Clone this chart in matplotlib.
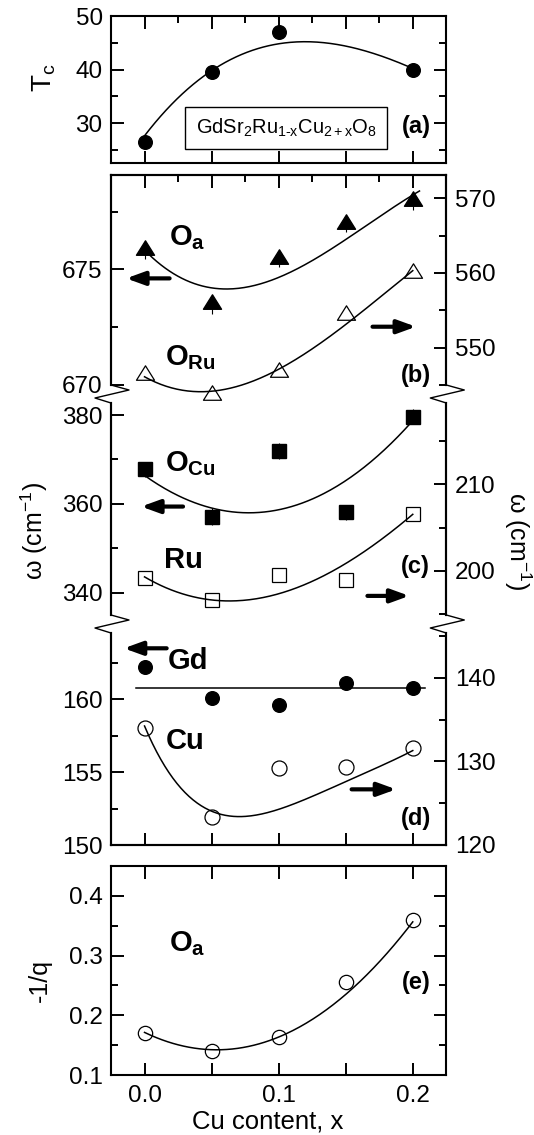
import numpy as np
import matplotlib
matplotlib.use('Agg')
import matplotlib.pyplot as plt
from matplotlib.lines import Line2D
from matplotlib.path import Path
from matplotlib.ticker import MultipleLocator, FuncFormatter

plt.rcParams['font.family'] = ['Liberation Sans', 'DejaVu Sans']
plt.rcParams['mathtext.fontset'] = 'custom'
plt.rcParams['mathtext.rm'] = 'Liberation Sans'
plt.rcParams['mathtext.bf'] = 'Liberation Sans:bold'
plt.rcParams['mathtext.it'] = 'Liberation Sans:italic'
plt.rcParams['mathtext.sf'] = 'Liberation Sans'

# Cu content
x = [0.0, 0.05, 0.1, 0.15, 0.2]

# (a) Tc
tc_x = [0.0, 0.05, 0.1, 0.2]
tc = [26.5, 39.5, 47.1, 40.0]
tc_guide = [27.8, 39.2, 45.8, 43.8, 40.4]

# (b) O_a (left axis) and O_Ru (right axis)
oa = [675.93, 673.58, 675.55, 677.06, 678.05]
oa_err = [0.5, 0.5, 0.45, 0.45, 0.5]
oa_guide = [675.84, 674.18, 674.68, 676.27, 678.22]
oru = [546.57, 543.9, 547.06, 554.7, 560.2]
oru_guide = [546.0, 544.57, 546.5, 553.5, 560.2]

# (c) O_Cu (left axis) and Ru (right axis)
ocu = [367.8, 357.1, 371.9, 358.1, 379.6]
ocu_err = [1.7, 1.9, 1.9, 1.7, 1.7]
ocu_guide = [366.3, 359.4, 358.3, 365.4, 378.7]
ru = [199.16, 196.54, 199.54, 198.93, 206.6]
ru_guide = [199.24, 196.74, 197.1, 200.97, 206.5]

# (d) Gd (left axis) and Cu (right axis)
gd = [162.2, 160.1, 159.6, 161.1, 160.75]
cu = [134.0, 123.4, 129.2, 129.3, 131.6]
cu_guide_x = [0.0, 0.0125, 0.025, 0.0375, 0.05, 0.075, 0.1, 0.15, 0.2]
cu_guide = [134.0, 130.5, 127.3, 125.1, 123.75, 123.5, 124.4, 127.5, 131.3]

# (e) -1/q of O_a
q_inv = [0.171, 0.140, 0.164, 0.256, 0.360]
q_guide = [0.1716, 0.142, 0.163, 0.236, 0.356]

W, H = 534, 1135
L, R = 111, 446.3
TICK_FS = 17.5
fig = plt.figure(figsize=(W / 100, H / 100), dpi=100)


def add_ax(top, bot):
    return fig.add_axes([L / W, 1 - bot / H, (R - L) / W, (bot - top) / H])


def guide(ax, xs, ys, deg, x0=0.0, x1=0.2):
    c = np.polyfit(xs, ys, deg)
    xx = np.linspace(x0, x1, 200)
    ax.plot(xx, np.polyval(c, xx), color='k', lw=1.1, clip_on=False, zorder=2)


def yticks(ax):
    ax.tick_params(which='both', direction='in', width=1.4, labelsize=TICK_FS, pad=6)
    ax.tick_params(which='major', length=9)
    ax.tick_params(which='minor', length=5)
    for s in ax.spines.values():
        s.set_linewidth(1.5)


def style(ax, top=True, bottom=True, minor_top=False):
    ax.set_xlim(-0.025, 0.225)
    ax.xaxis.set_major_locator(MultipleLocator(0.05))
    ax.xaxis.set_minor_locator(MultipleLocator(0.025))
    yticks(ax)
    ax.tick_params(axis='x', which='major', top=top, bottom=bottom, labelbottom=False)
    ax.tick_params(axis='x', which='minor', top=top and minor_top, bottom=False)


def arrow(ax, x0, x1, y):
    ax.annotate('', xy=(x1, y), xytext=(x0, y),
                arrowprops=dict(arrowstyle='-|>,head_length=0.55,head_width=0.2',
                                color='k', lw=3, shrinkA=0, shrinkB=0,
                                mutation_scale=20))


def zigzag(xp, yp):
    pts = [(0, 0), (18, 5), (-16, 13), (0, 18)]
    xs = [(xp + dx) / W for dx, dy in pts]
    ys = [1 - (yp + dy) / H for dx, dy in pts]
    fig.add_artist(Line2D(xs, ys, transform=fig.transFigure, color='k', lw=1.0))


tri = Path([(-1, -0.75), (1, -0.75), (0, 0.85), (-1, -0.75)],
           [Path.MOVETO, Path.LINETO, Path.LINETO, Path.CLOSEPOLY])
bold = dict(fontsize=21, ha='left', va='baseline')
lab = dict(fontsize=17, fontweight='bold', ha='right', va='center')

# ---- (a)
ax_a = add_ax(16.3, 163.3)
style(ax_a, minor_top=True)
ax_a.set_ylim(22.5, 50)
ax_a.yaxis.set_major_locator(MultipleLocator(10))
ax_a.yaxis.set_minor_locator(MultipleLocator(5))
ax_a.tick_params(axis='y', which='both', right=True)
guide(ax_a, x, tc_guide, 3)
ax_a.plot(tc_x, tc, 'o', color='k', ms=9.8, clip_on=False, zorder=3)
ax_a.text(0.1055, 29.08,
          r'GdSr$_\mathregular{2}$Ru$_\mathregular{1\text{-}x}$Cu$_\mathregular{2+x}$O$_\mathregular{8}$',
          fontsize=14.5, ha='center', va='center',
          bbox=dict(boxstyle='square,pad=0.5', fc='white', ec='k', lw=1.0))
ax_a.text(0.2136, 29.4, '(a)', **lab)

# ---- (b)
ax_b = add_ax(175.0, 385.0)
style(ax_b, bottom=False, minor_top=True)
ax_b.set_ylim(670, 679.08)
ax_b.yaxis.set_major_locator(MultipleLocator(5))
ax_b.yaxis.set_minor_locator(MultipleLocator(2.5))
ax_b.spines['bottom'].set_visible(False)
bt = ax_b.twinx()
bt.set_ylim(545, 573.1)
bt.yaxis.set_major_locator(MultipleLocator(10))
bt.yaxis.set_minor_locator(MultipleLocator(5))
yticks(bt)
bt.spines['bottom'].set_visible(False)
guide(ax_b, x, oa_guide, 3, 0.0, 0.205)
ax_b.errorbar(x, oa, yerr=[oa_err, [0] * 5], fmt='none', ecolor='k', elinewidth=0.8, clip_on=False)
ax_b.plot(x, oa, ls='none', marker=tri, color='k', ms=13, clip_on=False, zorder=3)
guide(bt, x, oru_guide, 3)
bt.plot(x, oru, ls='none', marker=tri, mfc='none', mec='k', mew=0.9, ms=13, clip_on=False, zorder=3)
ax_b.text(0.0182, 676.05, r'$\mathbf{O}_\mathbf{a}$', **bold)
ax_b.text(0.015, 670.87, r'$\mathbf{O}_\mathbf{Ru}$', **bold)
arrow(ax_b, 0.0187, -0.0137, 674.61)
arrow(ax_b, 0.170, 0.2024, 672.52)
ax_b.text(0.2136, 670.43, '(b)', **lab)

# ---- (c)
ax_c = add_ax(403.0, 615.0)
style(ax_c, top=False, bottom=False)
ax_c.set_ylim(335, 382.7)
ax_c.yaxis.set_major_locator(MultipleLocator(20))
ax_c.yaxis.set_minor_locator(MultipleLocator(10))
ax_c.spines['top'].set_visible(False)
ax_c.spines['bottom'].set_visible(False)
ct = ax_c.twinx()
ct.set_ylim(194.85, 219.46)
ct.yaxis.set_major_locator(MultipleLocator(10))
ct.yaxis.set_minor_locator(MultipleLocator(5))
yticks(ct)
ct.spines['top'].set_visible(False)
ct.spines['bottom'].set_visible(False)
guide(ax_c, x, ocu_guide, 2)
ax_c.errorbar(x, ocu, yerr=ocu_err, fmt='none', ecolor='k', elinewidth=0.8, clip_on=False)
ax_c.plot(x, ocu, 's', color='k', ms=9.6, clip_on=False, zorder=3)
guide(ct, x, ru_guide, 3)
ct.plot(x, ru, 's', mfc='none', mec='k', mew=0.9, ms=9.6, clip_on=False, zorder=3)
ax_c.text(0.015, 367.3, r'$\mathbf{O}_\mathbf{Cu}$', **bold)
ax_c.text(0.0142, 345.5, 'Ru', fontweight='bold', **bold)
arrow(ax_c, 0.0287, -0.0025, 359.4)
arrow(ax_c, 0.1662, 0.1974, 339.3)
ax_c.text(0.2125, 345.9, '(c)', **lab)

# ---- (d)
ax_d = add_ax(633.0, 845.0)
style(ax_d, top=False)
ax_d.set_ylim(150, 164.55)
ax_d.yaxis.set_major_locator(MultipleLocator(5))
ax_d.yaxis.set_minor_locator(MultipleLocator(2.5))
ax_d.spines['top'].set_visible(False)
dt = ax_d.twinx()
dt.set_ylim(120, 145.34)
dt.yaxis.set_major_locator(MultipleLocator(10))
dt.yaxis.set_minor_locator(MultipleLocator(5))
yticks(dt)
dt.spines['top'].set_visible(False)
gd_mean = np.mean(gd)
ax_d.plot([-0.006, 0.209], [gd_mean, gd_mean], color='k', lw=1.1)
ax_d.plot(x, gd, 'o', color='k', ms=9.8, clip_on=False, zorder=3)
guide(dt, cu_guide_x, cu_guide, 4)
dt.plot(x, cu, 'o', mfc='none', mec='k', mew=0.9, ms=10.8, clip_on=False, zorder=3)
ax_d.text(0.0172, 162.06, 'Gd', fontweight='bold', **bold)
ax_d.text(0.016, 156.57, 'Cu', fontweight='bold', **bold)
arrow(ax_d, 0.0165, -0.0154, 163.5)
arrow(ax_d, 0.1544, 0.1876, 153.82)
ax_d.text(0.2136, 151.83, '(d)', **lab)

# ---- (e)
ax_e = add_ax(866.0, 1075.0)
style(ax_e)
ax_e.set_ylim(0.1, 0.45)
ax_e.yaxis.set_major_locator(MultipleLocator(0.1))
ax_e.yaxis.set_minor_locator(MultipleLocator(0.05))
ax_e.tick_params(axis='y', which='both', right=True)
ax_e.tick_params(axis='x', which='major', labelbottom=True, pad=7)


def xfmt(v, pos):
    if abs(v) < 1e-9:
        v = 0.0
    return f'{v:.1f}' if abs(round(v / 0.1) * 0.1 - v) < 1e-6 else ''


ax_e.xaxis.set_major_formatter(FuncFormatter(xfmt))
guide(ax_e, x, q_guide, 2)
ax_e.plot(x, q_inv, 'o', mfc='none', mec='k', mew=0.9, ms=10.3, clip_on=False, zorder=3)
ax_e.text(0.0182, 0.3076, r'$\mathbf{O}_\mathbf{a}$', **bold)
ax_e.text(0.2136, 0.2547, '(e)', **lab)

# breaks between (b)-(c) and (c)-(d)
for yp in (385, 615):
    for xp in (L, R):
        zigzag(xp, yp)

# axis titles
fig.text(44 / W, 1 - 77.5 / H, r'T$_\mathregular{c}$', rotation=90, fontsize=20,
         ha='center', va='center')
fig.text(34 / W, 1 - 531 / H, r'ω (cm$^\mathregular{-1}$)', rotation=90, fontsize=18,
         ha='center', va='center')
fig.text(518 / W, 1 - 540.7 / H, r'ω (cm$^\mathregular{-1}$)', rotation=270, fontsize=18,
         ha='center', va='center')
fig.text(40 / W, 1 - 980 / H, '-1/q', rotation=90, fontsize=18, ha='center', va='center')
fig.text(267.5 / W, 1 - 1128.3 / H, 'Cu content, x', fontsize=18.5, ha='center', va='baseline')

fig.savefig('out.png', dpi=100)
